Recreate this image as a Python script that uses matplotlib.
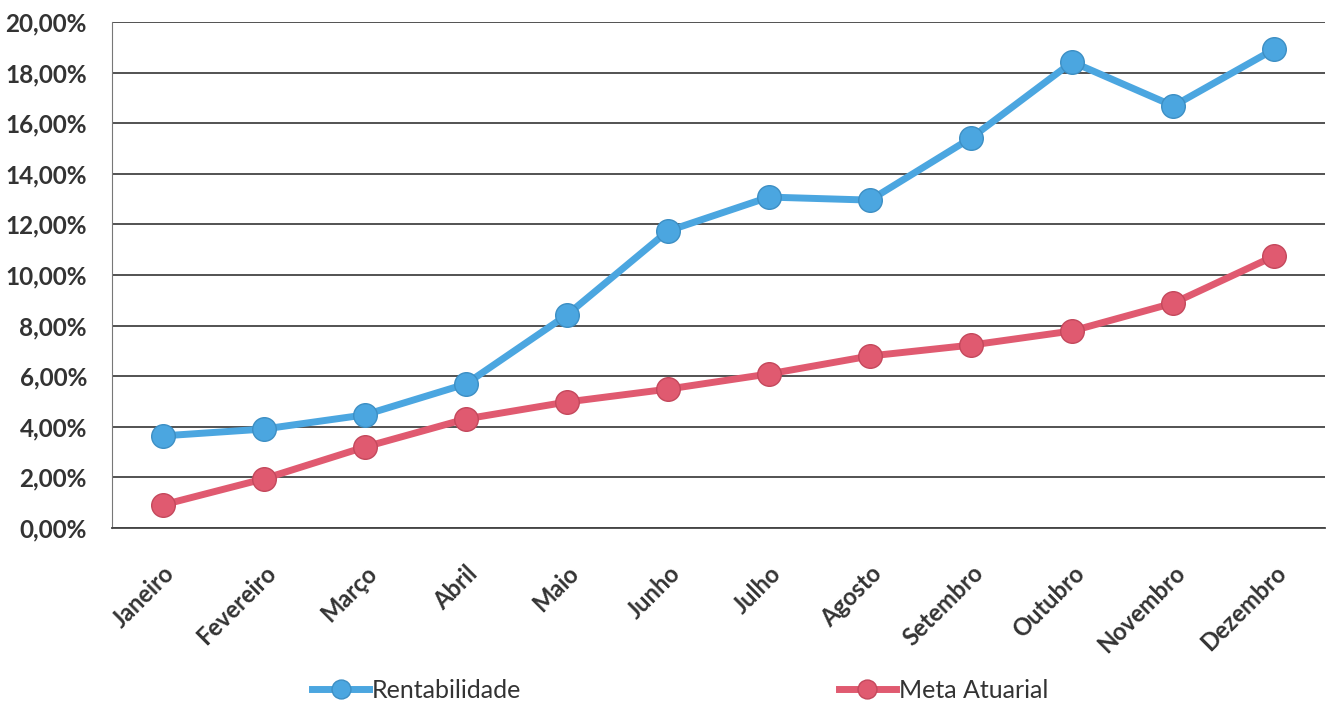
import matplotlib.pyplot as plt
from matplotlib.ticker import FuncFormatter

meses = ['Janeiro', 'Fevereiro', 'Março', 'Abril', 'Maio', 'Junho',
         'Julho', 'Agosto', 'Setembro', 'Outubro', 'Novembro', 'Dezembro']
rentabilidade = [3.64, 3.91, 4.47, 5.69, 8.42, 11.74, 13.08, 12.96, 15.42, 18.42, 16.68, 18.93]
meta_atuarial = [0.91, 1.94, 3.20, 4.31, 4.98, 5.49, 6.09, 6.80, 7.23, 7.79, 8.89, 10.75]

azul = '#4ba6e0'
vermelho = '#e05a70'

plt.rcParams['font.family'] = ['Lato', 'DejaVu Sans']

fig = plt.figure(figsize=(13.28, 7.02), dpi=100)
ax = fig.add_axes([112 / 1328, 1 - 528 / 702, (1325 - 112) / 1328, (528 - 22) / 702])

x = list(range(len(meses)))
ax.plot(x, rentabilidade, color=azul, lw=5, marker='o', ms=17,
        mfc=azul, mec='#3d8fc4', mew=1, label='Rentabilidade', zorder=3)
ax.plot(x, meta_atuarial, color=vermelho, lw=5, marker='o', ms=17,
        mfc=vermelho, mec='#c4485c', mew=1, label='Meta Atuarial', zorder=3)

ax.set_xlim(-0.5, len(meses) - 0.5)
ax.set_ylim(0, 20)
ax.set_yticks(range(0, 21, 2))
ax.yaxis.set_major_formatter(FuncFormatter(lambda v, p: f'{v:.2f}%'.replace('.', ',')))
ax.grid(axis='y', color='#444444', lw=1.3)
ax.set_axisbelow(True)

for s in ['top', 'right']:
    ax.spines[s].set_visible(False)
ax.spines['left'].set_color('#777777')
ax.spines['bottom'].set_color('#444444')
ax.spines['bottom'].set_linewidth(1.3)
ax.tick_params(axis='both', length=0)
ax.tick_params(axis='y', pad=18, labelsize=17.5, labelcolor='#333333')

ax.set_xticks(x)
ax.set_xticklabels(meses, rotation=45, ha='right', rotation_mode='anchor',
                   fontsize=17, color='#333333', fontweight='bold')
ax.tick_params(axis='x', pad=24)
for lbl in ax.get_yticklabels():
    lbl.set_fontweight('bold')

leg = fig.legend(loc='center', bbox_to_anchor=(0.512, 1 - 690 / 702), ncol=2, frameon=False,
                 fontsize=18, columnspacing=12.7, handlelength=2.3, handletextpad=0.1,
                 labelcolor='#333333', markerscale=0.8)

fig.savefig('out.png', dpi=100)
